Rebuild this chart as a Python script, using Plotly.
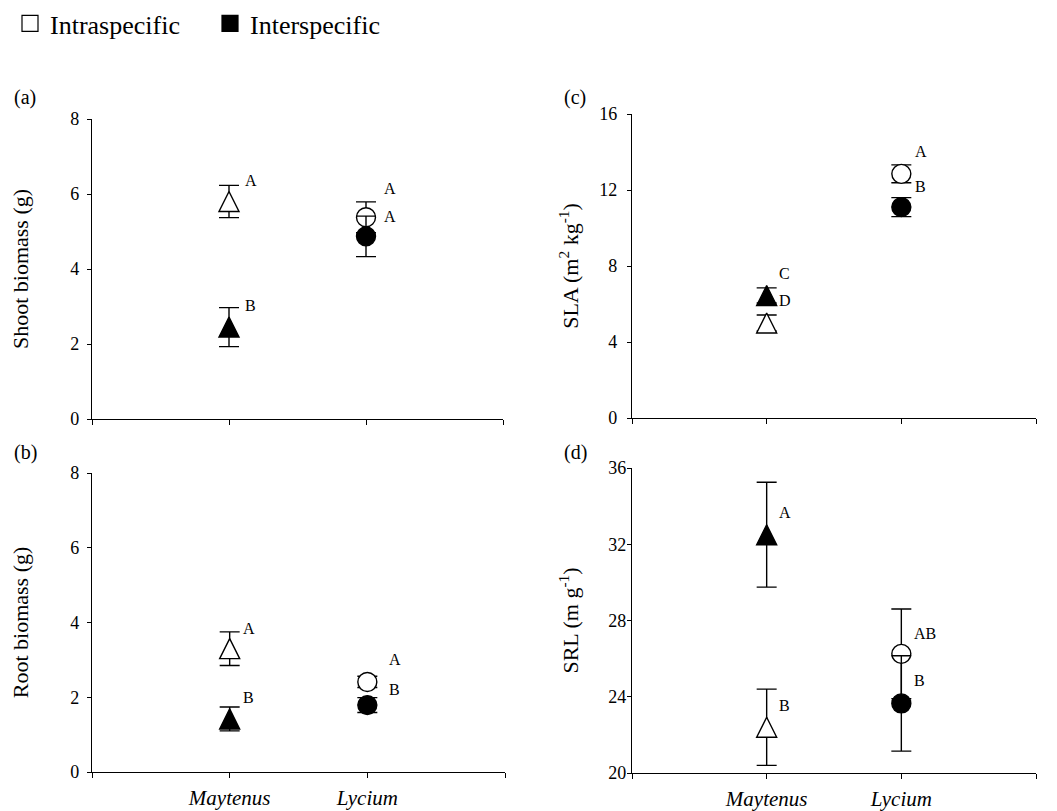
import plotly.graph_objects as go

# ---------------- data ----------------
categories = ["Maytenus", "Lycium"]
treatments = ["Intraspecific", "Interspecific"]

shoot_intra = [5.80, 5.38]
shoot_intra_se = [0.43, 0.41]
shoot_inter = [2.45, 4.87]
shoot_inter_se = [0.52, 0.54]

root_intra = [3.30, 2.41]
root_intra_se = [0.45, 0.15]
root_inter = [1.42, 1.79]
root_inter_se = [0.32, 0.20]

sla_intra = [5.00, 12.85]
sla_intra_se = [0.42, 0.47]
sla_inter = [6.45, 11.10]
sla_inter_se = [0.40, 0.50]

srl_intra = [22.40, 26.25]
srl_intra_se = [2.00, 2.35]
srl_inter = [32.50, 23.65]
srl_inter_se = [2.75, 2.50]

# significance letters: (text, category index, y value)
shoot_letters = [("A", 0, 6.37), ("B", 0, 3.04), ("A", 1, 6.16), ("A", 1, 5.41)]
root_letters = [("A", 0, 3.85), ("B", 0, 2.00), ("A", 1, 3.02), ("B", 1, 2.22)]
sla_letters = [("C", 0, 7.63), ("D", 0, 6.20), ("A", 1, 14.05), ("B", 1, 12.20)]
srl_letters = [("A", 0, 33.67), ("B", 0, 23.55), ("AB", 1, 27.30), ("B", 1, 24.85)]

shoot_ticks = [0, 2, 4, 6, 8]
root_ticks = [0, 2, 4, 6, 8]
sla_ticks = [0, 4, 8, 12, 16]
srl_ticks = [20, 24, 28, 32, 36]

# ---------------- figure ----------------
FONT = "Liberation Serif"
W, H = 1057, 811
xpos = [i + 1 for i in range(len(categories))]

def px_dom(a, b, total, flip=False):
    if flip:
        return [1 - b / total, 1 - a / total]
    return [a / total, b / total]

panels = [
    dict(ax="", lab="(a)", title="Shoot biomass (g)", intra=shoot_intra, intra_se=shoot_intra_se,
         inter=shoot_inter, inter_se=shoot_inter_se, letters=shoot_letters, ticks=shoot_ticks,
         xd=px_dom(92, 503, W), yd=px_dom(119, 419, H, True), bottom=False, dx=[0.1, 0.12],
         tls=4, tst=35, labx=12, laby=98),
    dict(ax="2", lab="(c)", title="SLA (m<sup>2</sup> kg<sup>-1</sup>)", intra=sla_intra, intra_se=sla_intra_se,
         inter=sla_inter, inter_se=sla_inter_se, letters=sla_letters, ticks=sla_ticks,
         xd=px_dom(632, 1036, W), yd=px_dom(114, 418, H, True), bottom=False, dx=[0.08, 0.09],
         tls=6, tst=14, labx=562, laby=98),
    dict(ax="3", lab="(b)", title="Root biomass (g)", intra=root_intra, intra_se=root_intra_se,
         inter=root_inter, inter_se=root_inter_se, letters=root_letters, ticks=root_ticks,
         xd=px_dom(92, 505, W), yd=px_dom(473, 772, H, True), bottom=True, dx=[0.08, 0.14],
         tls=4, tst=35, labx=12, laby=452),
    dict(ax="4", lab="(d)", title="SRL (m g<sup>-1</sup>)", intra=srl_intra, intra_se=srl_intra_se,
         inter=srl_inter, inter_se=srl_inter_se, letters=srl_letters, ticks=srl_ticks,
         xd=px_dom(632, 1036, W), yd=px_dom(468, 773, H, True), bottom=True, dx=[0.075, 0.08],
         tls=-3, tst=23, labx=562, laby=452),
]

TRI = 20
CIRC = 19
sym = ["arrow-down", "circle"]
ang = [180, 0]
stand = [TRI / 2, 0]
sizes = [TRI, CIRC]

fig = go.Figure()
annotations = []
for p in panels:
    xa = "x" + p["ax"]
    ya = "y" + p["ax"]
    for vals, se, fill in [(p["intra"], p["intra_se"], "white"), (p["inter"], p["inter_se"], "black")]:
        fig.add_trace(go.Scatter(
            x=xpos, y=vals, xaxis=xa, yaxis=ya, mode="markers", showlegend=False,
            error_y=dict(type="data", array=se, visible=True, color="black", thickness=1.4, width=10),
            marker=dict(symbol=sym, angle=ang, standoff=stand, size=sizes, color=fill, opacity=1,
                        line=dict(color="black", width=1.4)),
            hoverinfo="skip"))
    for text, ci, yv in p["letters"]:
        annotations.append(dict(x=xpos[ci] + p["dx"][ci], y=yv, xref=xa, yref=ya, text=text,
                                showarrow=False, xanchor="left", yanchor="middle",
                                font=dict(family=FONT, size=16, color="black")))
    # panel label
    annotations.append(dict(x=p["labx"] / W, y=1 - p["laby"] / H,
                            xref="paper", yref="paper", text=p["lab"], showarrow=False,
                            xanchor="left", yanchor="middle",
                            font=dict(family=FONT, size=20, color="black")))
    xkey = "xaxis" + p["ax"]
    ykey = "yaxis" + p["ax"]
    fig.update_layout({
        xkey: dict(domain=p["xd"], anchor=ya, range=[0, 3], tickmode="array",
                   tickvals=[0] + xpos + [3], ticktext=[""] + categories + [""],
                   showticklabels=p["bottom"], showline=True, linecolor="black", linewidth=1.3,
                   ticks="outside", ticklen=5, tickcolor="black", tickwidth=1,
                   showgrid=False, zeroline=False, ticklabelstandoff=2,
                   tickfont=dict(family=FONT, size=21, color="black", style="italic")),
        ykey: dict(domain=p["yd"], anchor=xa, range=[p["ticks"][0], p["ticks"][-1]],
                   tickmode="array", tickvals=p["ticks"], showline=True, linecolor="black",
                   linewidth=1.3, ticks="outside", ticklen=4, tickcolor="black", tickwidth=1,
                   showgrid=False, zeroline=False, ticklabelstandoff=p["tls"],
                   tickfont=dict(family=FONT, size=18, color="black"),
                   title=dict(text=p["title"], standoff=p["tst"],
                              font=dict(family=FONT, size=22, color="black"))),
    })

# legend-only entries
for name, fill in zip(treatments, ["white", "black"]):
    fig.add_trace(go.Scatter(x=[None], y=[None], mode="markers", name=name,
                             marker=dict(symbol="square", size=16, color=fill,
                                         line=dict(color="black", width=1.2))))

fig.update_layout(
    width=W, height=H,
    margin=dict(l=0, r=0, t=0, b=0, autoexpand=False),
    paper_bgcolor="white", plot_bgcolor="white",
    showlegend=True,
    legend=dict(orientation="h", x=10 / W, y=1.0, xanchor="left", yanchor="top",
                entrywidth=155, entrywidthmode="pixels",
                font=dict(family=FONT, size=26, color="black"), itemsizing="trace"),
    annotations=annotations,
)

fig.write_html("out.html", config={"displayModeBar": False},
               post_script="document.body.style.margin='0';")
